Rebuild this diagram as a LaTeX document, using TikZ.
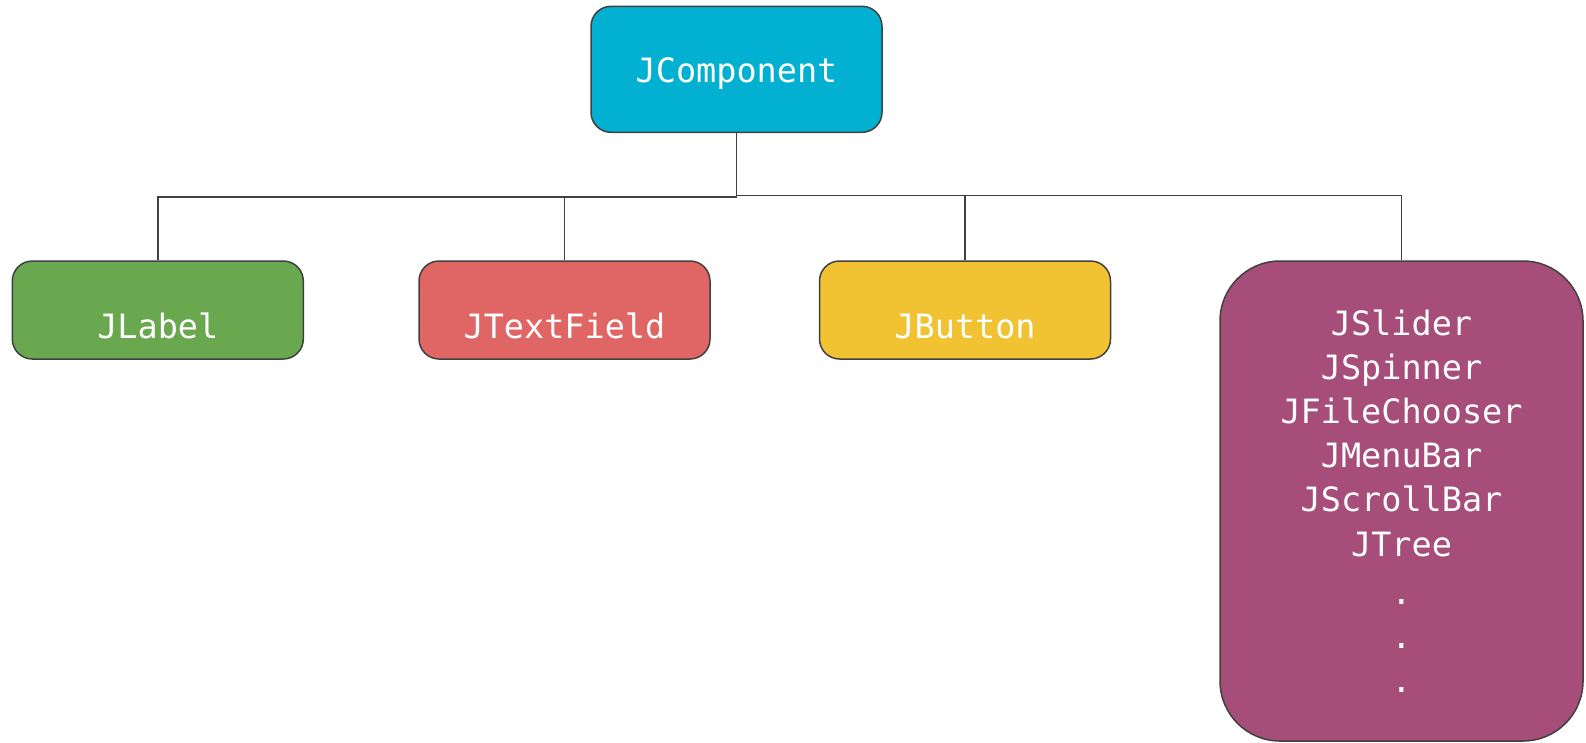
\documentclass[tikz,border=0pt]{standalone}
\usepackage{fontspec}
\setmonofont{DejaVu Sans Mono}
\definecolor{topcol}{HTML}{02B0D2}
\definecolor{labelcol}{HTML}{6AA84F}
\definecolor{fieldcol}{HTML}{E06666}
\definecolor{buttoncol}{HTML}{F1C232}
\definecolor{othercol}{HTML}{A64D79}
\definecolor{edgecol}{HTML}{404040}
\newcommand{\droptext}[2]{\raisebox{-#1}[0pt][0pt]{#2}}
\tikzset{
  classbox/.style={draw=edgecol, line width=1.5pt, rounded corners=20pt,
    text=white, inner sep=0pt, align=center,
    font=\ttfamily\fontsize{33.5}{44.2}\selectfont},
  smallbox/.style={classbox, minimum width=291pt, minimum height=98pt},
  link/.style={draw=edgecol, line width=1.5pt}
}
\begin{document}
\begin{tikzpicture}[x=1pt,y=-1pt]
\useasboundingbox (0,0) rectangle (1586,742);
\node[classbox, fill=topcol, minimum width=291pt, minimum height=126pt] (top) at (736.5,69.3) {\droptext{13.5pt}{JComponent}};
\node[smallbox, fill=labelcol] (label) at (157.8,310) {\droptext{28pt}{JLabel}};
\node[smallbox, fill=fieldcol] (field) at (564.5,310) {\droptext{28pt}{JTextField}};
\node[smallbox, fill=buttoncol] (button) at (965,310) {\droptext{28pt}{JButton}};
\node[classbox, fill=othercol, rounded corners=60pt, minimum width=363pt, minimum height=480pt] (other) at (1401.5,501)
  {JSlider\\JSpinner\\JFileChooser\\JMenuBar\\JScrollBar\\JTree\\[4pt].\\.\\.};
% tree connectors
\draw[link] (top.south) -- ++(0,64) coordinate (bus);
\draw[link] (bus) -| (label.north);
\draw[link] (bus) -| (field.north);
\draw[link] ([yshift=1.5pt]bus) -| (button.north);
\draw[link] ([yshift=1.5pt]bus) -| (other.north);
\end{tikzpicture}
\end{document}
